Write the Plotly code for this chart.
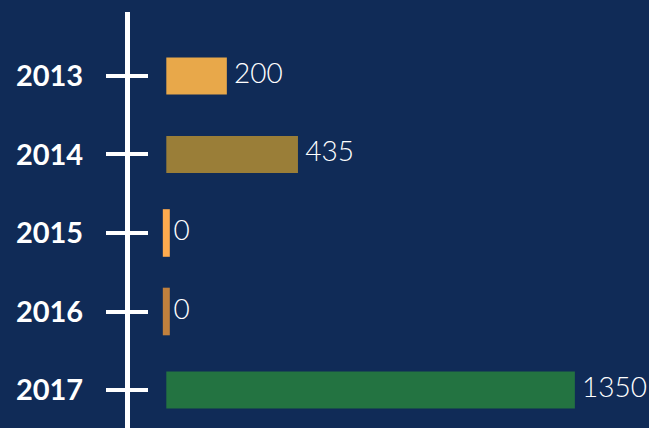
import plotly.graph_objects as go

years = ["2013", "2014", "2015", "2016", "2017"]
values = [200, 435, 0, 0, 1350]
bar_colors = ["#E8A84A", "#9A7E38", "#FFAB4E", "#C0803D", "#237341"]
value_labels = ["200", "435", "0", "0", "1350"]

BG = "#102B57"

# zero-valued entries get a thin stub so they stay visible
zero_years = [y for y, v in zip(years, values) if v == 0]
zero_x = [v for v in values if v == 0]
zero_colors = [c for c, v in zip(bar_colors, values) if v == 0]

fig = go.Figure()

fig.add_trace(go.Bar(
    x=values, y=years, orientation="h",
    marker=dict(color=bar_colors, line=dict(width=0)),
    showlegend=False, hoverinfo="skip",
))

fig.add_trace(go.Scatter(
    x=zero_x, y=zero_years, yaxis="y2", mode="markers",
    marker=dict(symbol="line-ns", size=34,
                line=dict(width=7, color=zero_colors)),
    hoverinfo="skip", showlegend=False,
))

# value labels
fig.add_trace(go.Scatter(
    x=values, y=years, mode="markers+text",
    text=value_labels, textposition="middle right",
    marker=dict(size=10, opacity=0),
    textfont=dict(family="Lato", size=28, color="white", weight=300),
    cliponaxis=False, hoverinfo="skip", showlegend=False,
))

yrange = [4.484, -0.815]
fig.update_layout(
    width=649, height=428,
    paper_bgcolor=BG, plot_bgcolor=BG,
    margin=dict(l=130, r=0, t=12, b=0),
    bargap=0.53,
    xaxis=dict(range=[-120, 1595], visible=False, fixedrange=True),
    yaxis=dict(
        type="category", categoryorder="array", categoryarray=years,
        range=yrange, showline=True, linewidth=5, linecolor="white",
        ticks="outside", ticklen=19, tickwidth=4, tickcolor="white",
        showgrid=False, zeroline=False,
        tickfont=dict(family="Lato", size=29, color="white", weight="bold"),
        ticklabelstandoff=17,
    ),
    yaxis2=dict(
        type="category", categoryorder="array", categoryarray=years,
        range=yrange, overlaying="y", side="left", anchor="x",
        ticks="inside", ticklen=18, tickwidth=4, tickcolor="white",
        showticklabels=False, showgrid=False, zeroline=False, showline=False,
    ),
)

fig.write_html("out.html", config={"displayModeBar": False},
               post_script="document.body.style.margin='0';")
